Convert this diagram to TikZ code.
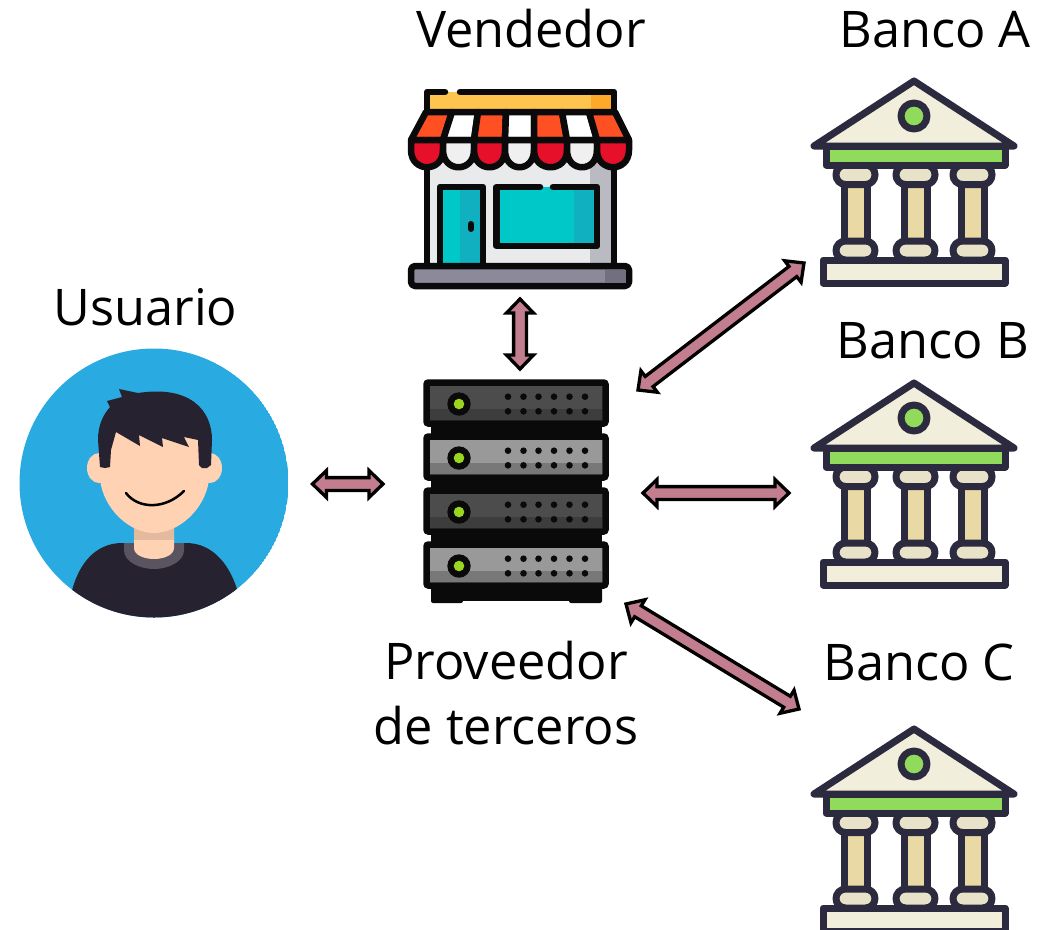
\documentclass[tikz,border=0pt]{standalone}
\usepackage{fontspec}
\setmainfont{Open Sans}
\usetikzlibrary{calc}
\definecolor{rosa}{HTML}{C27D8F}
\definecolor{tinta}{HTML}{2B2A3E}
\definecolor{crema}{HTML}{F2EEDC}
\definecolor{crema2}{HTML}{E8E2C8}
\definecolor{fuste}{HTML}{E8D9A5}
\definecolor{verde}{HTML}{90DB5C}
\definecolor{negro}{HTML}{0A0A0A}
\definecolor{turq}{HTML}{00C8C8}
\definecolor{turq2}{HTML}{11B0C0}
\definecolor{piel}{HTML}{FED2B3}
\definecolor{piel2}{HTML}{E3BA9E}
\definecolor{ropa}{HTML}{272230}
\definecolor{cuello}{HTML}{5A5460}
\definecolor{cielo}{HTML}{29ABE2}
\definecolor{amarillo}{HTML}{FFC44D}
\definecolor{ambar}{HTML}{FFA92B}
\definecolor{naranja}{HTML}{FF5023}
\definecolor{rojo}{HTML}{E6102B}
\definecolor{blanco2}{HTML}{F0F0F0}
\definecolor{muro}{HTML}{E9EAEC}
\definecolor{muro2}{HTML}{BABBC2}
\definecolor{acera}{HTML}{8C8A9A}
\definecolor{acera2}{HTML}{72707F}
\definecolor{led}{HTML}{9BD61E}
\tikzset{
	etiqueta/.style={font=\fontsize{50.5}{65}\selectfont,inner sep=0pt,align=center},
	caja/.style={inner sep=0pt,outer sep=0pt},
	flechalinea/.style={draw=black,fill=rosa,line width=3.3pt,miter limit=10},
	tlinea/.style={draw=negro,line width=6.5pt,line join=round,line cap=round},
	blinea/.style={draw=tinta,line width=7pt,line join=round,line cap=round}
}
\def\flecha(#1)(#2){
	\coordinate (fi) at (#1);
	\coordinate (ff) at (#2);
	\draw[flechalinea] (fi) -- ($(fi)!14pt!(ff)!13.5pt!90:(ff)$) -- ($(fi)!14pt!(ff)!6.4pt!90:(ff)$)
		-- ($(ff)!14pt!(fi)!6.4pt!-90:(fi)$) -- ($(ff)!14pt!(fi)!13.5pt!-90:(fi)$) -- (ff)
		-- ($(ff)!14pt!(fi)!13.5pt!90:(fi)$) -- ($(ff)!14pt!(fi)!6.4pt!90:(fi)$)
		-- ($(fi)!14pt!(ff)!6.4pt!-90:(ff)$) -- ($(fi)!14pt!(ff)!13.5pt!-90:(ff)$) -- cycle;
}
\begin{document}
\begin{tikzpicture}[x=1pt,y=-1pt]
	\useasboundingbox (0,0) rectangle (1057,929);

	%%%%% usuario %%%%%
	\node[caja,minimum size=269pt] (usuario) at (154,483) {};
	\begin{scope}
		\clip (154,483) circle (134.5);
		\fill[cielo] (154,483) circle (134.5);
		\fill[ropa] (70,600) .. controls (76,565) and (95,543) .. (122,543) -- (186,543) .. controls (213,543) and (232,565) .. (240,600) -- (240,630) -- (70,630) -- cycle;
	\end{scope}
	\fill[cuello] (124,543) -- (184,543) -- (184,550) .. controls (184,562) and (168,569) .. (154,569) .. controls (140,569) and (124,562) .. (124,550) -- cycle;
	\fill[piel] (134,520) -- (174,520) -- (174,548) .. controls (174,555) and (164,559) .. (154,559) .. controls (144,559) and (134,555) .. (134,548) -- cycle;
	\fill[piel2] (134,525) rectangle (174,540);
	\fill[piel] (99,468) ellipse (12 and 15);
	\fill[piel] (210,468) ellipse (12 and 15);
	\fill[piel] (100,430) -- (100,480) .. controls (104,510) and (130,533) .. (154,533) .. controls (178,533) and (205,510) .. (209,480) -- (209,430) -- cycle;
	\fill[ropa] (100,467) -- (98,440) .. controls (98,425) and (103,415) .. (110,407) -- (107,401) -- (122,397) -- (119,389) -- (138,393)
		.. controls (190,385) and (212,410) .. (212,440) -- (211,465) -- (207,468) -- (202,468) -- (199,465) -- (198,440) -- (184,437)
		-- (189,447) -- (162,438) -- (163,447) -- (139,435) -- (140,446) -- (116,432) -- (111,450) -- (110,467) -- (105,468) -- cycle;
	\draw[line width=2.5pt,line cap=round] (126,493) .. controls (138,509) and (165,510) .. (184,491);

	%%%%% tienda %%%%%
	\node[caja,minimum width=224pt,minimum height=200pt] (tienda) at (520,189) {};
	\fill[muro] (427,150) rectangle (614,266);
	\fill[muro2] (590,150) rectangle (614,266);
	\draw[tlinea] (427,160) -- (427,266) (614,160) -- (614,266);
	\fill[turq] (440,187) rectangle (483,266);
	\fill[turq2] (460,187) rectangle (483,266);
	\draw[tlinea] (440,266) -- (440,187) -- (483,187) -- (483,266);
	\draw[line width=6pt,color=negro,line cap=round] (471,224) -- (471,229);
	\fill[turq] (496.5,187) rectangle (597,246);
	\fill[turq2] (574,187) rectangle (597,246);
	\draw[tlinea] (540,187) -- (496.5,187) -- (496.5,246) -- (597,246) -- (597,187) -- (553,187);
	\fill[amarillo] (427,92) rectangle (614,112);
	\fill[ambar] (591,92) rectangle (614,112);
	\draw[tlinea] (445,92) -- (427,92) -- (427,112) -- (614,112) -- (614,92) -- (460,92);
	% toldo
	\foreach \xa/\xb/\xc/\xd/\col in {426/452/443/411/naranja,452/478/474/443/white,478/506/505/474/naranja,506/534/534/505/white,534/562/567/534/naranja,562/589/597/567/white,589/615/629/597/naranja}{
		\filldraw[tlinea,fill=\col] (\xa,112) -- (\xb,112) -- (\xc,140) -- (\xd,140) -- cycle;
	}
	\foreach \xa/\xb/\col in {411/443/rojo,443/474/blanco2,474/505/rojo,505/534/blanco2,534/567/rojo,567/597/blanco2,597/629/rojo}{
		\filldraw[tlinea,fill=\col] (\xa,140) -- (\xa,150) .. controls (\xa,173) and (\xb,173) .. (\xb,150) -- (\xb,140) -- cycle;
	}
	\filldraw[tlinea,rounded corners=4pt,fill=acera] (411,266) rectangle (629,286);
	\fill[acera2] (605,269.5) rectangle (625.5,282.5);

	%%%%% servidor %%%%%
	\node[caja,minimum width=186pt,minimum height=224pt] (servidor) at (516,491) {};
	\fill[negro,rounded corners=2pt] (431,585) rectangle (463,603);
	\fill[negro,rounded corners=2pt] (569,585) rectangle (602,603);
	\foreach \y/\cola/\colb in {379/black!70/black!76,433/black!40/black!53,487/black!70/black!76,541/black!40/black!53}{
		\fill[negro] (431,\y+40) rectangle (602,\y+60);
		\filldraw[draw=negro,line width=6.5pt,rounded corners=2pt,fill=\cola] (426.5,\y+3.5) rectangle (605.5,\y+44.5);
		\fill[\colb] (429.75,\y+30) rectangle (602.25,\y+41.25);
		\fill[negro] (459,\y+25) circle (11.7);
		\fill[led] (459,\y+25) circle (5.3);
		\foreach \xp in {508,523.5,538.5,554,569.5,585}{
			\fill[negro] (\xp,\y+17.7) circle (3.3);
			\fill[negro] (\xp,\y+32.3) circle (3.3);
		}
	}

	%%%%% bancos %%%%%
	\foreach \nombre/\dy in {bancoA/0,bancoB/302,bancoC/648}{
		\node[caja,minimum size=208pt] (\nombre) at (914,182+\dy) {};
		\begin{scope}[shift={(0,\dy)}]
			\foreach \xc in {855.5,915.5,972.5}{
				\filldraw[blinea,fill=fuste] (\xc-11.5,180) rectangle (\xc+11.5,245);
				\filldraw[blinea,fill=crema2,rounded corners=9.5pt] (\xc-19.5,165) rectangle (\xc+19.5,184.5);
				\filldraw[blinea,fill=crema2,rounded corners=9.5pt] (\xc-19.5,241) rectangle (\xc+19.5,260);
			}
			\filldraw[blinea,fill=crema] (823,260) rectangle (1005,283);
			\filldraw[blinea,fill=verde] (826,146) rectangle (1005,165);
			\filldraw[blinea,fill=crema] (814,146) -- (914,81) -- (1014,146) -- cycle;
			\filldraw[blinea,fill=verde] (914,116) circle (13);
		\end{scope}
	}

	%%%%% textos %%%%%
	\node[etiqueta,anchor=base] (etvendedor) at (531,47) {Vendedor};
	\node[etiqueta,anchor=base] (etbancoa) at (935,47) {Banco A};
	\node[etiqueta,anchor=base] (etusuario) at (145.5,325) {Usuario};
	\node[etiqueta,anchor=base] (etbancob) at (933,358) {Banco B};
	\node[etiqueta,anchor=base] (etbancoc) at (919,680) {Banco C};
	\node[etiqueta] (etproveedor) at (506,693) {Proveedor\\de terceros};

	%%%%% flechas %%%%%
	\flecha([shift={(24,1)}]usuario.east)([shift={(-40,-7)}]servidor.west)
	\flecha([shift={(0,10)}]tienda.south)([shift={(4,-10)}]servidor.north)
	\flecha([shift={(29,11)}]servidor.north east)([shift={(-6,-23)}]bancoA.south west)
	\flecha([shift={(34,2)}]servidor.east)([shift={(-21,9)}]bancoB.west)
	\flecha([shift={(17,1)}]servidor.south east)([shift={(-11,-121)}]bancoC.west)
\end{tikzpicture}
\end{document}
